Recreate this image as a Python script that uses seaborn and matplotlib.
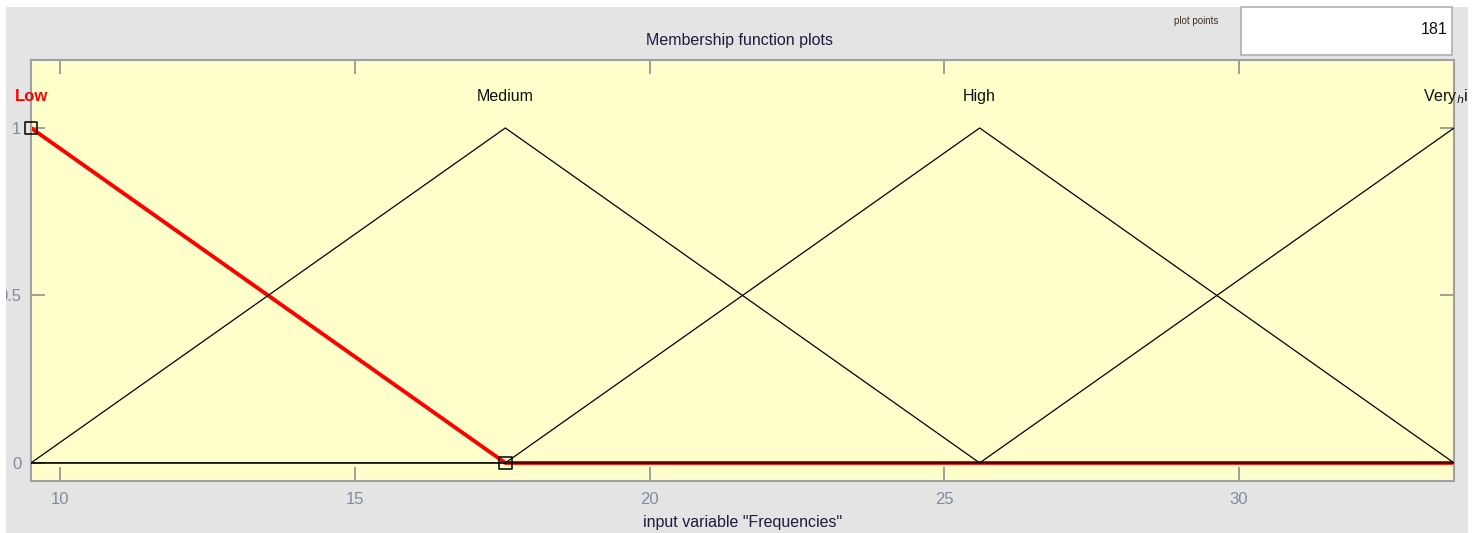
import matplotlib
matplotlib.use("Agg")
import matplotlib.pyplot as plt
from matplotlib.patches import Rectangle
import seaborn as sns

# Membership functions of the input variable (triangle vertices)
mf_names = ["Low", "Medium", "High", "Very$_{h}$igh"]
mf_peaks = [9.5, 17.55, 25.6, 33.65]
low_x = [9.5, 17.55, 33.65]
low_y = [1, 0, 0]
medium_x = [9.5, 17.55, 25.6, 33.65]
medium_y = [0, 1, 0, 0]
high_x = [9.5, 17.55, 25.6, 33.65]
high_y = [0, 0, 1, 0]
veryhigh_x = [9.5, 25.6, 33.65]
veryhigh_y = [0, 0, 1]
handle_x = [9.5, 17.55]
handle_y = [1, 0]

x_ticks = [10, 15, 20, 25, 30]
y_ticks = [0, 0.5, 1]
y_tick_labels = ["0", "0.5", "1"]
plot_points = "181"

sns.set_theme(style="ticks")
plt.rcParams["font.family"] = ["Liberation Sans", "DejaVu Sans"]

W, H = 1480, 533
fig = plt.figure(figsize=(W / 100, H / 100), dpi=100, facecolor="white")


def fx(x):
    return x / W


def fy(y):
    return 1 - y / H


# gray panel behind everything
fig.add_artist(Rectangle((fx(6), fy(H)), fx(1468) - fx(6), fy(7) - fy(H),
                         transform=fig.transFigure, facecolor="#e4e4e4",
                         edgecolor="none", zorder=-10))

ax = fig.add_axes([fx(31), fy(481), fx(1454) - fx(31), fy(60) - fy(481)])
ax.set_facecolor("#ffffcc")

line_kw = dict(ax=ax, sort=False, estimator=None, legend=False)
sns.lineplot(x=low_x, y=low_y, color="red", linewidth=2.8, zorder=2, **line_kw)
for xs, ys in [(medium_x, medium_y), (high_x, high_y), (veryhigh_x, veryhigh_y)]:
    sns.lineplot(x=xs, y=ys, color="black", linewidth=0.9, zorder=3, **line_kw)
sns.scatterplot(x=handle_x, y=handle_y, ax=ax, marker="s", s=80,
                facecolor="none", edgecolor="black", linewidth=1.1,
                zorder=4, legend=False, clip_on=False)

ax.set_xlim(9.5, 33.65)
ax.set_ylim(-0.054, 1.203)
ax.set_xticks(x_ticks)
ax.set_yticks(y_ticks)
ax.set_yticklabels(y_tick_labels)
ax.tick_params(direction="in", length=10, width=1.2, color="#909090",
               labelcolor="#7f8ca0", labelsize=12, top=True, right=True)
ax.tick_params(axis="x", pad=8)
ax.tick_params(axis="y", pad=7)
for sp in ax.spines.values():
    sp.set_color("#a0a0a0")
    sp.set_linewidth(1.5)
ax.set_xlabel('input variable "Frequencies"', fontsize=11.5, color="#1c1c3c")
ax.xaxis.label.set_va("center")
ax.xaxis.set_label_coords(0.5, -(522 - 481) / (481 - 60))

# membership function names above each peak
for i, (name, px) in enumerate(zip(mf_names, mf_peaks)):
    if i == 0:
        ax.text(px, 1.095, name, color="red", fontsize=12, fontweight="bold",
                ha="center", va="center", clip_on=False)
    else:
        ax.text(px, 1.095, name, color="#101010", fontsize=11.5,
                ha="center", va="center", clip_on=False)

fig.text(fx(740), fy(41), "Membership function plots", fontsize=11.5,
         color="#1c1c3c", ha="center", va="center")

# plot points box
fig.text(fx(1218), fy(21), "plot points", fontsize=7, color="#403020",
         ha="right", va="center")
fig.add_artist(Rectangle((fx(1241), fy(55)), fx(1452) - fx(1241), fy(7) - fy(55),
                         transform=fig.transFigure, facecolor="white",
                         edgecolor="#b0b0b0", linewidth=1.2, zorder=1))
fig.text(fx(1447), fy(29), plot_points, fontsize=11.5, color="#101010",
         ha="right", va="center", zorder=2)

# white outer margins (left, right, top)
for (x0, y0, x1, y1) in [(0, 0, 6, H), (1468, 0, W, H), (0, 0, W, 7)]:
    fig.add_artist(Rectangle((fx(x0), fy(y1)), fx(x1) - fx(x0), fy(y0) - fy(y1),
                             transform=fig.transFigure, facecolor="white",
                             edgecolor="none", zorder=0.5))

fig.savefig("out.png", dpi=100)
